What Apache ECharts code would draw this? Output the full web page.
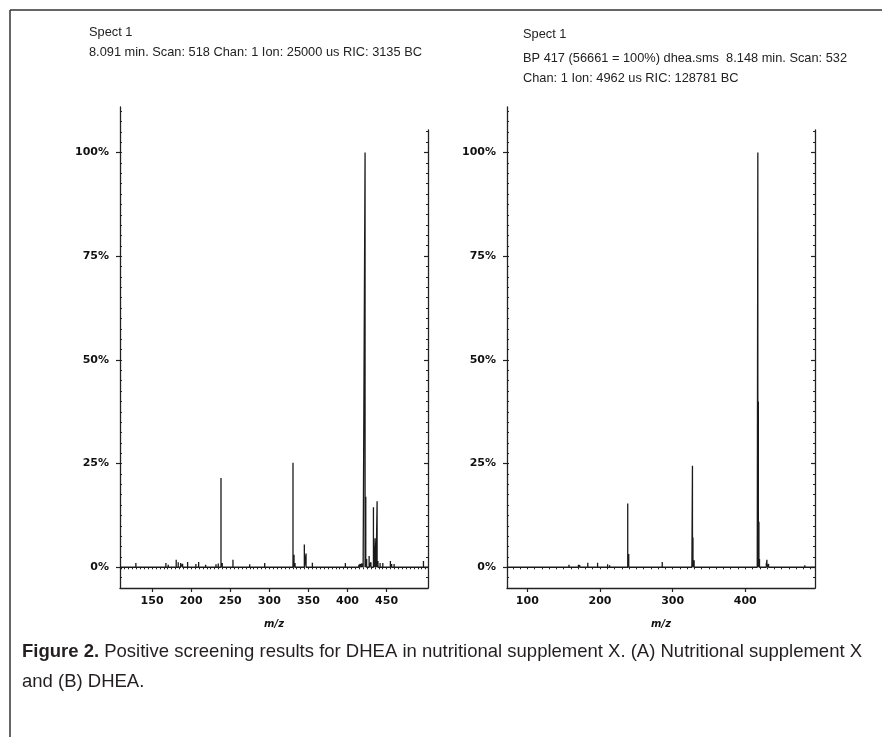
<!DOCTYPE html>
<html>
<head>
<meta charset="utf-8">
<script src="https://cdn.jsdelivr.net/npm/echarts@6/dist/echarts.min.js"></script>
<style>
  html, body { margin: 0; padding: 0; background: #fff; }
  #main { width: 882px; height: 737px; }
</style>
</head>
<body>
<div id="main"></div>
<script>
// spectrum A : nutritional supplement X
var leftMz  = [129.3, 167.7, 170.7, 180.9, 183.5, 186.6, 189.1, 195.5, 206.1, 209.6, 218.6, 231.8, 234.7, 238.2, 239.8,
               253.5, 274.9, 281.7, 294.1, 330.3, 331.6, 332.9, 344.8, 347.0, 355.1, 397.3, 414.5, 416.1, 418.0, 420.0,
               422.5, 423.4, 424.5, 427.7, 430.0, 433.2, 434.3, 435.3, 436.6, 437.9, 439.0, 441.7, 445.2, 454.9, 456.5,
               459.7, 497.2];
var leftInt = [1.0, 1.0, 0.6, 1.8, 1.2, 1.0, 0.8, 1.3, 0.8, 1.3, 0.6, 0.7, 0.9, 21.5, 1.0,
               1.8, 0.7, 0.4, 1.0, 25.2, 3.0, 1.0, 5.5, 3.3, 1.1, 1.0, 0.6, 0.8, 0.9, 1.0,
               100, 17.0, 2.0, 2.7, 1.2, 14.5, 5.0, 7.0, 6.0, 15.9, 1.5, 1.0, 1.0, 1.5, 0.8,
               0.8, 1.5];

// spectrum B : DHEA standard
var rightMz  = [157.3, 160.6, 170.3, 172.1, 183.2, 196.7, 210.5, 213.3, 222.0, 238.2, 239.6, 247.3, 285.7, 299.0,
                326.5, 327.3, 328.0, 329.6, 355.0, 416.5, 417.3, 418.0, 418.8, 419.6, 429.0, 429.8, 432.1, 460.0, 482.0];
var rightInt = [0.6, 0.3, 0.6, 0.5, 1.1, 1.1, 0.7, 0.5, 0.2, 15.4, 3.2, 0.3, 1.3, 0.3,
                1.0, 24.5, 7.2, 1.7, 0.3, 1.0, 100, 40, 11, 2.0, 1.0, 1.8, 0.8, 0.3, 0.5];

var yTicks = [0, 25, 50, 75, 100];
var leftXTicks = [150, 200, 250, 300, 350, 400, 450];
var rightXTicks = [100, 200, 300, 400];

var leftHead = ['Spect 1', '8.091 min. Scan: 518 Chan: 1 Ion: 25000 us RIC: 3135 BC'];
var rightHead = ['Spect 1', 'BP 417 (56661 = 100%) dhea.sms  8.148 min. Scan: 532', 'Chan: 1 Ion: 4962 us RIC: 128781 BC'];
var captionBold = 'Figure 2.';
var captionLine1 = ' Positive screening results for DHEA in nutritional supplement X. (A) Nutritional supplement X';
var captionLine2 = 'and (B) DHEA.';

var ink = '#222';
var axisFont = 'DejaVu Sans';
var headFont = '12.8px "Liberation Sans", Arial, sans-serif';
var capFont = '18.5px "Liberation Sans", Arial, sans-serif';

function sticks(mz, ints, lo, hi) {
    var pts = [[lo, 0]];
    for (var i = 0; i < mz.length; i++) {
        pts.push([mz[i], 0], [mz[i], ints[i]], [mz[i], 0]);
    }
    pts.push([hi, 0]);
    return pts;
}

function steps(a, b, s) {
    var out = [];
    for (var v = a; v <= b + 1e-9; v += s) out.push(+v.toFixed(3));
    return out;
}

var L = { min: 109, max: 503 };
var R = { min: 72, max: 496 };

var grids = [
    { left: 120, top: 107, width: 308, bottom: 149 },
    { left: 120, top: 130, width: 308, bottom: 149 },
    { left: 507, top: 107, width: 308, bottom: 149 },
    { left: 507, top: 130, width: 308, bottom: 149 }
];

function mainX(grid, rng, ticks) {
    return {
        type: 'value', gridIndex: grid, min: rng.min, max: rng.max,
        axisLine: { show: true, onZero: false, lineStyle: { color: ink, width: 1.3 } },
        axisTick: { show: true, customValues: ticks, length: 4, lineStyle: { color: ink, width: 1.2 } },
        axisLabel: { customValues: ticks, color: '#111', fontFamily: axisFont, fontWeight: 'bold', fontSize: 11, margin: 8 },
        splitLine: { show: false },
        name: 'm/z', nameLocation: 'middle', nameGap: 31,
        nameTextStyle: { color: '#111', fontFamily: axisFont, fontWeight: 'bold', fontStyle: 'italic', fontSize: 10 }
    };
}
function minorX(grid, rng, step) {
    return {
        type: 'value', gridIndex: grid, min: rng.min, max: rng.max,
        axisLine: { show: false },
        axisTick: { show: true, inside: true, length: 2, customValues: steps(Math.ceil(rng.min / step) * step, rng.max, step), lineStyle: { color: ink } },
        axisLabel: { show: false }, splitLine: { show: false }
    };
}
function hiddenX(grid, rng) {
    return { type: 'value', gridIndex: grid, min: rng.min, max: rng.max, show: false };
}
function yAxisSet(grid, max, pos, major) {
    var out = [];
    out.push({
        type: 'value', gridIndex: grid, min: -5, max: max, position: pos,
        axisLine: { show: true, onZero: false, lineStyle: { color: ink, width: 1.3 } },
        axisTick: { show: true, customValues: yTicks, inside: pos === 'right', length: 4, lineStyle: { color: ink, width: 1.2 } },
        axisLabel: major ? { customValues: yTicks, formatter: '{value}%', color: '#111', fontFamily: axisFont, fontWeight: 'bold', fontSize: 11, margin: 11 } : { show: false },
        splitLine: { show: false }
    });
    out.push({
        type: 'value', gridIndex: grid, min: -5, max: max, position: pos,
        axisLine: { show: false },
        axisTick: { show: true, inside: true, length: 2, customValues: steps(-5, max, 2.5), lineStyle: { color: ink } },
        axisLabel: { show: false }, splitLine: { show: false }
    });
    return out;
}

var xAxes = [
    mainX(0, L, leftXTicks), minorX(0, L, 5), hiddenX(1, L),
    mainX(2, R, rightXTicks), minorX(2, R, 10), hiddenX(3, R)
];
var yAxes = [].concat(
    yAxisSet(0, 111, 'left', true),
    yAxisSet(1, 105.4, 'right', false),
    yAxisSet(2, 111, 'left', true),
    yAxisSet(3, 105.4, 'right', false)
);

function headText(lines, x, ys) {
    return lines.map(function (t, i) {
        return {
            type: 'text', left: x, top: ys[i],
            style: { text: t, fill: '#222', font: headFont }
        };
    });
}

var graphics = [
    { type: 'line', shape: { x1: 10, y1: 10, x2: 882, y2: 10 }, style: { stroke: '#333', lineWidth: 1.5 } },
    { type: 'line', shape: { x1: 10, y1: 10, x2: 10, y2: 737 }, style: { stroke: '#333', lineWidth: 1.5 } }
].concat(
    headText(leftHead, 89, [26, 46]),
    headText(rightHead, 523, [28, 52, 72]),
    [
        {
            type: 'text', left: 22, top: 642,
            style: {
                text: '{b|' + captionBold + '}' + captionLine1,
                fill: '#231f20', font: capFont,
                rich: { b: { fontWeight: 'bold', fontSize: 18.5, fontFamily: '"Liberation Sans", Arial, sans-serif', fill: '#231f20' } }
            }
        },
        {
            type: 'text', left: 22, top: 672,
            style: { text: captionLine2, fill: '#231f20', font: capFont }
        }
    ]
);

var chart = echarts.init(document.getElementById('main'));
chart.setOption({
    backgroundColor: '#fff',
    animation: false,
    grid: grids,
    xAxis: xAxes,
    yAxis: yAxes,
    graphic: graphics,
    series: [
        {
            type: 'line', xAxisIndex: 0, yAxisIndex: 0, data: sticks(leftMz, leftInt, L.min, L.max),
            symbol: 'none', lineStyle: { color: '#1a1a1a', width: 1.3 }, clip: true
        },
        {
            type: 'line', xAxisIndex: 3, yAxisIndex: 4, data: sticks(rightMz, rightInt, R.min, R.max),
            symbol: 'none', lineStyle: { color: '#1a1a1a', width: 1.3 }, clip: true
        }
    ]
});
</script>
</body>
</html>
